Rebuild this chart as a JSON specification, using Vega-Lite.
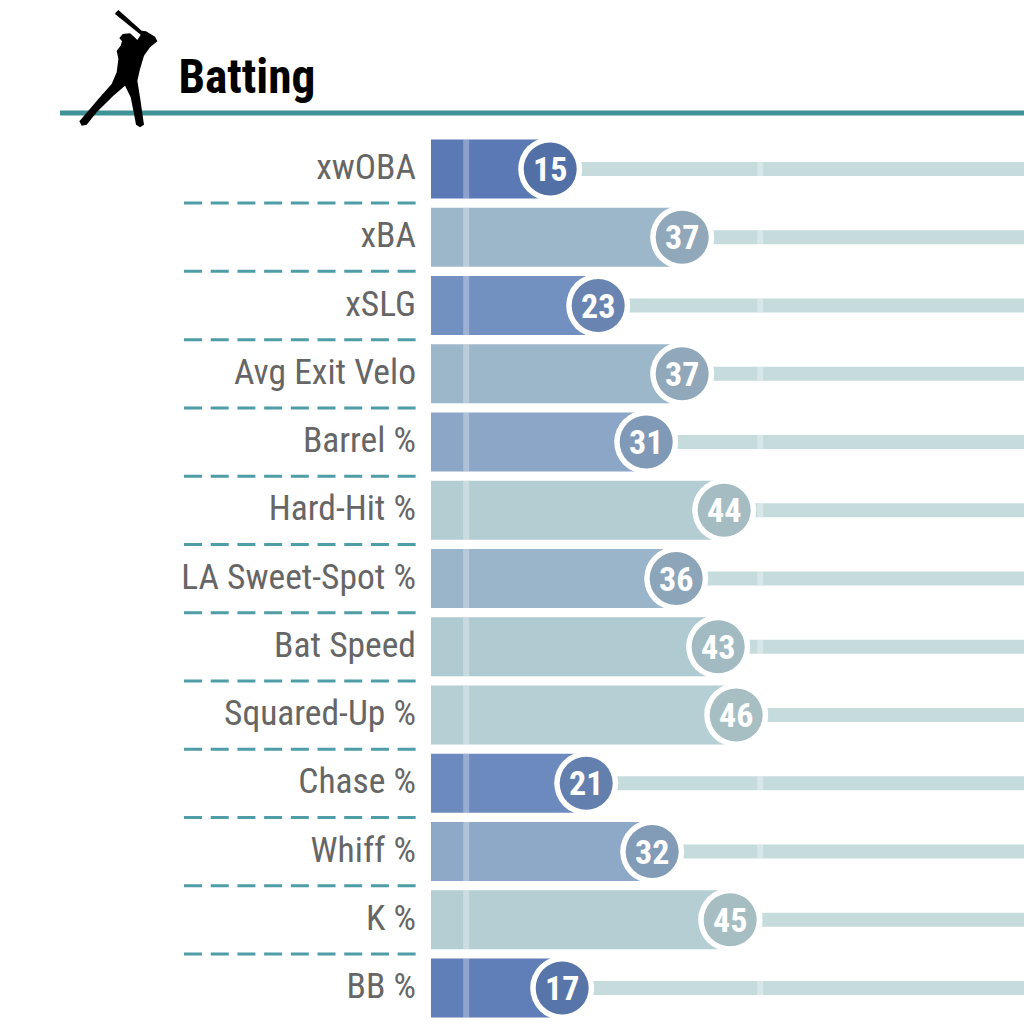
{
  "$schema": "https://vega.github.io/schema/vega-lite/v6.json",
  "width": 1024,
  "height": 1024,
  "autosize": {"type": "none"},
  "padding": 0,
  "background": "white",
  "config": {"view": {"stroke": null}},
  "datasets": {
    "batting": [
      {"metric": "xwOBA", "row": 1, "value": 15, "base": -4.87, "max": 100},
      {"metric": "xBA", "row": 2, "value": 37, "base": -4.87, "max": 100},
      {"metric": "xSLG", "row": 3, "value": 23, "base": -4.87, "max": 100},
      {"metric": "Avg Exit Velo", "row": 4, "value": 37, "base": -4.87, "max": 100},
      {"metric": "Barrel %", "row": 5, "value": 31, "base": -4.87, "max": 100},
      {"metric": "Hard-Hit %", "row": 6, "value": 44, "base": -4.87, "max": 100},
      {"metric": "LA Sweet-Spot %", "row": 7, "value": 36, "base": -4.87, "max": 100},
      {"metric": "Bat Speed", "row": 8, "value": 43, "base": -4.87, "max": 100},
      {"metric": "Squared-Up %", "row": 9, "value": 46, "base": -4.87, "max": 100},
      {"metric": "Chase %", "row": 10, "value": 21, "base": -4.87, "max": 100},
      {"metric": "Whiff %", "row": 11, "value": 32, "base": -4.87, "max": 100},
      {"metric": "K %", "row": 12, "value": 45, "base": -4.87, "max": 100},
      {"metric": "BB %", "row": 13, "value": 17, "base": -4.87, "max": 100}
    ],
    "separators": [
      {"row": 1.5, "from": -46.03, "to": -7.37}, {"row": 2.5, "from": -46.03, "to": -7.37},
      {"row": 3.5, "from": -46.03, "to": -7.37}, {"row": 4.5, "from": -46.03, "to": -7.37},
      {"row": 5.5, "from": -46.03, "to": -7.37}, {"row": 6.5, "from": -46.03, "to": -7.37},
      {"row": 7.5, "from": -46.03, "to": -7.37}, {"row": 8.5, "from": -46.03, "to": -7.37},
      {"row": 9.5, "from": -46.03, "to": -7.37}, {"row": 10.5, "from": -46.03, "to": -7.37},
      {"row": 11.5, "from": -46.03, "to": -7.37}, {"row": 12.5, "from": -46.03, "to": -7.37}
    ],
    "header": [{"title": "Batting", "row": -0.118, "x": -46.97, "iconRow": -0.47, "iconX": -57.03, "ruleRow": 0.18, "ruleX": -66.7, "ruleX2": 93.97}]
  },
  "data": {"name": "batting"},
  "layer": [
    {
      "mark": {"type": "bar", "orient": "horizontal", "height": 59},
      "encoding": {
        "x": {"field": "base", "type": "quantitative", "axis": null, "scale": {"domain": [-76.7, 93.97], "nice": false, "zero": false, "padding": 0}},
        "x2": {"field": "value"},
        "y": {"field": "row", "type": "quantitative", "axis": null, "scale": {"domain": [13.527, -1.476], "nice": false, "zero": false, "padding": 0}},
        "color": {
          "field": "value",
          "type": "quantitative",
          "legend": null,
          "scale": {"domain": [15, 23, 31, 37, 44, 46], "range": ["#5a79b5", "#7290c0", "#8ba6c6", "#9db7ca", "#b4cdd3", "#b6cfd4"]}
        }
      }
    },
    {
      "mark": {"type": "bar", "orient": "horizontal", "height": 14, "color": "#c6dbdb", "clip": true},
      "encoding": {
        "x": {"field": "value", "type": "quantitative"},
        "x2": {"field": "max"},
        "y": {"field": "row", "type": "quantitative"}
      }
    },
    {
      "mark": {"type": "tick", "orient": "vertical", "size": 59, "thickness": 6, "color": "white", "opacity": 0.3},
      "encoding": {
        "x": {"datum": 1, "type": "quantitative"},
        "y": {"field": "row", "type": "quantitative"}
      }
    },
    {
      "mark": {"type": "tick", "orient": "vertical", "size": 14, "thickness": 6, "color": "white", "opacity": 0.3},
      "encoding": {
        "x": {"datum": 50, "type": "quantitative"},
        "y": {"field": "row", "type": "quantitative"}
      }
    },
    {
      "mark": {"type": "point", "shape": "circle", "filled": true, "color": "white", "opacity": 1, "size": 4096},
      "encoding": {
        "x": {"field": "value", "type": "quantitative"},
        "y": {"field": "row", "type": "quantitative"}
      }
    },
    {
      "mark": {"type": "point", "shape": "circle", "filled": true, "opacity": 1, "size": 2809},
      "encoding": {
        "x": {"field": "value", "type": "quantitative"},
        "y": {"field": "row", "type": "quantitative"},
        "color": {"field": "value", "type": "quantitative", "legend": null}
      }
    },
    {
      "mark": {"type": "point", "shape": "circle", "filled": true, "color": "black", "opacity": 0.08, "size": 2809},
      "encoding": {
        "x": {"field": "value", "type": "quantitative"},
        "y": {"field": "row", "type": "quantitative"}
      }
    },
    {
      "mark": {"type": "text", "font": "Roboto Condensed, Liberation Sans Narrow, Roboto", "fontWeight": "bold", "fontSize": 34, "color": "white", "align": "center", "baseline": "middle", "dy": 2},
      "encoding": {
        "x": {"field": "value", "type": "quantitative"},
        "y": {"field": "row", "type": "quantitative"},
        "text": {"field": "value", "type": "quantitative"}
      }
    },
    {
      "mark": {"type": "text", "font": "Roboto Condensed, Liberation Sans Narrow, Roboto", "fontSize": 35.5, "color": "#666666", "align": "right", "baseline": "middle", "dy": -1},
      "encoding": {
        "x": {"datum": -7.37, "type": "quantitative"},
        "y": {"field": "row", "type": "quantitative"},
        "text": {"field": "metric"}
      }
    },
    {
      "data": {"name": "separators"},
      "mark": {"type": "rule", "color": "#4f9da6", "strokeWidth": 3, "strokeDash": [18, 8.7]},
      "encoding": {
        "x": {"field": "from", "type": "quantitative"},
        "x2": {"field": "to"},
        "y": {"field": "row", "type": "quantitative"}
      }
    },
    {
      "data": {"name": "header"},
      "mark": {"type": "rule", "color": "#3f9296", "strokeWidth": 5},
      "encoding": {
        "x": {"field": "ruleX", "type": "quantitative"},
        "x2": {"field": "ruleX2"},
        "y": {"field": "ruleRow", "type": "quantitative"}
      }
    },
    {
      "data": {"name": "header"},
      "mark": {
        "type": "point",
        "filled": true,
        "color": "black",
        "opacity": 1,
        "size": 14400,
        "shape": "M-0.033 -0.939L0.006 -0.978L0.394 -0.633L0.467 -0.622L0.617 -0.533L0.656 -0.456L0.533 -0.356L0.433 -0.217L0.367 0.006L0.322 0.2L0.367 0.478L0.411 0.783L0.433 0.933L0.367 0.978L0.3 0.933L0.267 0.756L0.211 0.478L0.117 0.283L-0.078 0.45L-0.356 0.728L-0.522 0.933L-0.606 0.95L-0.644 0.878L-0.494 0.7L-0.328 0.506L-0.106 0.256L-0.022 0.061L0.006 -0.161L-0.022 -0.3L0.044 -0.383L0.067 -0.456L0.022 -0.511L0.078 -0.578L0.2 -0.589L0.267 -0.533L0.322 -0.478L0.378 -0.567L-0.05 -0.911Z"
      },
      "encoding": {
        "x": {"field": "iconX", "type": "quantitative"},
        "y": {"field": "iconRow", "type": "quantitative"}
      }
    },
    {
      "data": {"name": "header"},
      "mark": {"type": "text", "font": "Roboto Condensed, Liberation Sans Narrow, Roboto", "fontWeight": "bold", "fontSize": 47.4, "color": "black", "align": "left", "baseline": "alphabetic"},
      "encoding": {
        "x": {"field": "x", "type": "quantitative"},
        "y": {"field": "row", "type": "quantitative"},
        "text": {"field": "title"}
      }
    }
  ]
}
